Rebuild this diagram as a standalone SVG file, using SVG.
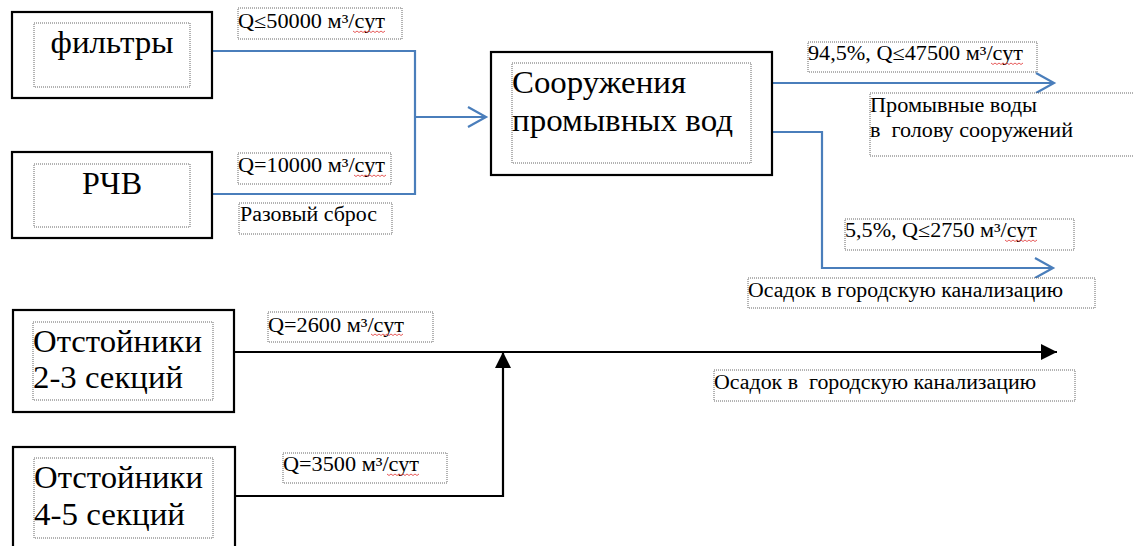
<svg xmlns="http://www.w3.org/2000/svg" xmlns:xlink="http://www.w3.org/1999/xlink" width="1134" height="546" viewBox="0 0 1134 546">
<style>
  .outer { fill: #ffffff; stroke: #000000; stroke-width: 2.2; }
  .inner { fill: none; stroke: #555555; stroke-width: 0.9; stroke-dasharray: 1 1; }
  .lbox { fill: #ffffff; stroke: #555555; stroke-width: 0.9; stroke-dasharray: 1 1; }
  text { font-family: 'Liberation Serif', 'Times New Roman', serif; fill: #000000; }
  .big { font-size: 32px; }
  .lbl { font-size: 20px; }
  .blue { fill: none; stroke: #4a7ebb; stroke-width: 2.2; }
  .black { fill: none; stroke: #000000; stroke-width: 2.2; }
  .wave { fill: none; stroke: #e03030; stroke-width: 0.8; }
</style>
<defs>
  <marker id="openArrow" markerUnits="userSpaceOnUse" markerWidth="22" markerHeight="24" viewBox="0 0 22 24" refX="19" refY="12" orient="auto">
    <path d="M1,2 L19,12 L1,22" fill="none" stroke="#4a7ebb" stroke-width="2.2"/>
  </marker>
  <marker id="solidArrow" markerUnits="userSpaceOnUse" markerWidth="16" markerHeight="18" viewBox="0 0 16 18" refX="16" refY="9" orient="auto">
    <path d="M0,1 L16,9 L0,17 Z" fill="#000000"/>
  </marker>
  <path id="wave" class="wave" d="M0,0 l2,1.5 2,-1.5 2,1.5 2,-1.5 2,1.5 2,-1.5 2,1.5 2,-1.5 2,1.5 2,-1.5 2,1.5 2,-1.5 2,1.5 2,-1.5 2,1.5 2,-1.5"/>
</defs>

<rect x="0" y="0" width="1134" height="546" fill="#ffffff"/>

<g id="connectors">
  <polyline class="blue" points="212,51 415,51 415,194 212,194"/>
  <line class="blue" x1="415" y1="117" x2="486" y2="117" marker-end="url(#openArrow)"/>
  <line class="blue" x1="772" y1="83" x2="1054" y2="83" marker-end="url(#openArrow)"/>
  <polyline class="blue" points="772,132 822,132 822,268 1053,268" marker-end="url(#openArrow)"/>
  <line class="black" x1="234" y1="352" x2="1057" y2="352" marker-end="url(#solidArrow)"/>
  <polyline class="black" points="235,496 503,496 503,352" marker-end="url(#solidArrow)"/>
</g>

<g id="node-filtry">
  <rect class="outer" x="12" y="12" width="200" height="86"/>
  <rect class="inner" x="34" y="23" width="156" height="64"/>
  <text class="big" x="112" y="53" text-anchor="middle" textLength="123" lengthAdjust="spacingAndGlyphs">фильтры</text>
</g>

<g id="node-rchv">
  <rect class="outer" x="12" y="152" width="200" height="86"/>
  <rect class="inner" x="34" y="164" width="156" height="63"/>
  <text class="big" x="112" y="194" text-anchor="middle" textLength="60" lengthAdjust="spacingAndGlyphs">РЧВ</text>
</g>

<g id="node-sooruzheniya">
  <rect class="outer" x="491" y="52" width="281" height="123"/>
  <rect class="inner" x="512" y="63" width="239" height="100"/>
  <text class="big" x="512" y="93" textLength="174" lengthAdjust="spacingAndGlyphs">Сооружения</text>
  <text class="big" x="512" y="131" textLength="221" lengthAdjust="spacingAndGlyphs">промывных вод</text>
</g>

<g id="node-otst23">
  <rect class="outer" x="13" y="310" width="221" height="102"/>
  <rect class="inner" x="33" y="322" width="180" height="78"/>
  <text class="big" x="33" y="352" textLength="169" lengthAdjust="spacingAndGlyphs">Отстойники</text>
  <text class="big" x="33" y="388" textLength="150" lengthAdjust="spacingAndGlyphs">2-3 секций</text>
</g>

<g id="node-otst45">
  <rect class="outer" x="13" y="447" width="222" height="110"/>
  <rect class="inner" x="34" y="458" width="179" height="80"/>
  <text class="big" x="34" y="488" textLength="169" lengthAdjust="spacingAndGlyphs">Отстойники</text>
  <text class="big" x="34" y="525" textLength="151" lengthAdjust="spacingAndGlyphs">4-5 секций</text>
</g>

<g id="labels">
  <g id="label-q50000">
    <rect class="lbox" x="238" y="8" width="164" height="31"/>
    <text class="lbl" x="238" y="28" textLength="147" lengthAdjust="spacingAndGlyphs">Q≤50000 м³/сут</text>
    <use xlink:href="#wave" x="353" y="31"/>
  </g>
  <g id="label-q10000">
    <rect class="lbox" x="238" y="153" width="153" height="31"/>
    <text class="lbl" x="238" y="172" textLength="147" lengthAdjust="spacingAndGlyphs">Q=10000 м³/сут</text>
    <use xlink:href="#wave" x="354" y="175"/>
  </g>
  <g id="label-sbros">
    <rect class="lbox" x="239" y="203" width="153" height="31"/>
    <text class="lbl" x="240" y="221" textLength="137" lengthAdjust="spacingAndGlyphs">Разовый сброс</text>
  </g>
  <g id="label-945">
    <rect class="lbox" x="808" y="42" width="229" height="30"/>
    <text class="lbl" x="808" y="60" textLength="215" lengthAdjust="spacingAndGlyphs">94,5%, Q≤47500 м³/сут</text>
    <use xlink:href="#wave" x="991" y="63"/>
  </g>
  <g id="label-promyvnye">
    <rect class="lbox" x="870" y="93" width="270" height="63"/>
    <text class="lbl" x="870" y="112" textLength="167" lengthAdjust="spacingAndGlyphs">Промывные воды</text>
    <text class="lbl" x="870" y="137" textLength="203" lengthAdjust="spacingAndGlyphs" xml:space="preserve">в  голову сооружений</text>
  </g>
  <g id="label-55">
    <rect class="lbox" x="845" y="219" width="229" height="31"/>
    <text class="lbl" x="845" y="237" textLength="192" lengthAdjust="spacingAndGlyphs">5,5%, Q≤2750 м³/сут</text>
    <use xlink:href="#wave" x="1005" y="240"/>
  </g>
  <g id="label-osadok1">
    <rect class="lbox" x="748" y="278" width="347" height="30"/>
    <text class="lbl" x="748" y="297" textLength="315" lengthAdjust="spacingAndGlyphs">Осадок в городскую канализацию</text>
  </g>
  <g id="label-q2600">
    <rect class="lbox" x="268" y="312" width="165" height="30"/>
    <text class="lbl" x="268" y="332" textLength="136" lengthAdjust="spacingAndGlyphs">Q=2600 м³/сут</text>
    <use xlink:href="#wave" x="371" y="334"/>
  </g>
  <g id="label-q3500">
    <rect class="lbox" x="283" y="453" width="164" height="30"/>
    <text class="lbl" x="283" y="471" textLength="136" lengthAdjust="spacingAndGlyphs">Q=3500 м³/сут</text>
    <use xlink:href="#wave" x="387" y="474"/>
  </g>
  <g id="label-osadok2">
    <rect class="lbox" x="714" y="370" width="361" height="31"/>
    <text class="lbl" x="714" y="389" textLength="322" lengthAdjust="spacingAndGlyphs" xml:space="preserve">Осадок в  городскую канализацию</text>
  </g>
</g>
</svg>
